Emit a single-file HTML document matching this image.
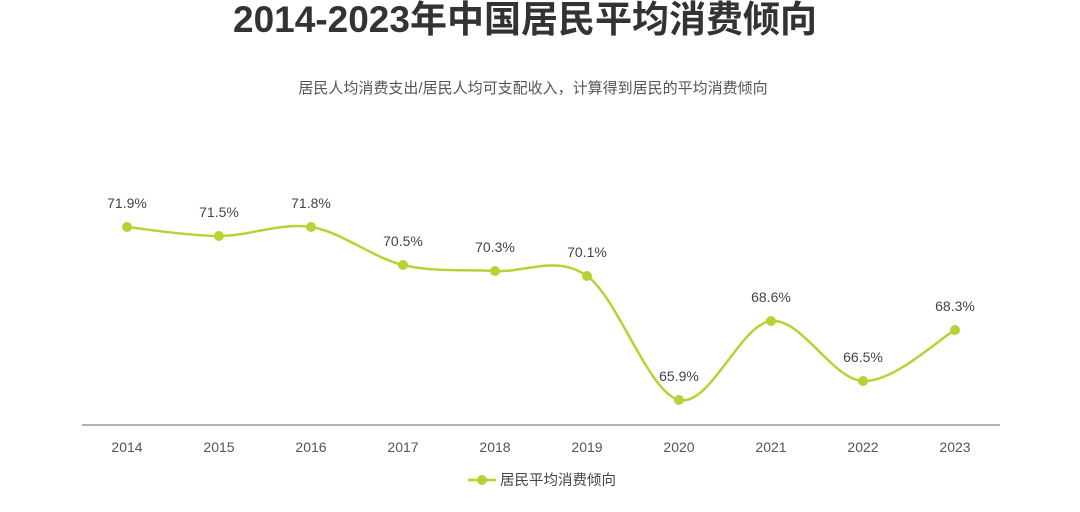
<!DOCTYPE html>
<html><head><meta charset="utf-8"><style>
html,body{margin:0;padding:0;background:#fff;}
svg{display:block;}
text{font-family:"Liberation Sans","Noto Sans CJK SC",sans-serif;}
</style></head><body>
<svg width="1080" height="512" viewBox="0 0 1080 512">
<text x="525" y="32" text-anchor="middle" font-size="37" font-weight="bold" fill="#333">2014-2023年中国居民平均消费倾向</text>
<text x="533" y="93" text-anchor="middle" font-size="15" fill="#555">居民人均消费支出/居民人均可支配收入，计算得到居民的平均消费倾向</text>
<line x1="82" y1="425" x2="1000" y2="425" stroke="#666" stroke-width="1"/>
<g font-size="14" fill="#555" text-anchor="middle">
<text x="127" y="452">2014</text><text x="219" y="452">2015</text><text x="311" y="452">2016</text><text x="403" y="452">2017</text><text x="495" y="452">2018</text><text x="587" y="452">2019</text><text x="679" y="452">2020</text><text x="771" y="452">2021</text><text x="863" y="452">2022</text><text x="955" y="452">2023</text>
</g>
<path d="M127,227 C142.3,228.5 188.3,236 219,236 C249.7,236 280.3,222.2 311,227 C341.7,231.8 372.3,257.7 403,265 C433.7,272.3 464.3,269.2 495,271 C525.7,272.8 556.3,254.5 587,276 C617.7,297.5 648.3,392.5 679,400 C709.7,407.5 740.3,324.2 771,321 C801.7,317.8 832.3,379.5 863,381 C893.7,382.5 939.7,338.5 955,330" fill="none" stroke="#b5d334" stroke-width="2.5"/>
<g fill="#b5d334">
<circle cx="127" cy="227" r="5"/><circle cx="219" cy="236" r="5"/><circle cx="311" cy="227" r="5"/><circle cx="403" cy="265" r="5"/><circle cx="495" cy="271" r="5"/><circle cx="587" cy="276" r="5"/><circle cx="679" cy="400" r="5"/><circle cx="771" cy="321" r="5"/><circle cx="863" cy="381" r="5"/><circle cx="955" cy="330" r="5"/>
</g>
<g font-size="14" fill="#444" text-anchor="middle">
<text x="127" y="208">71.9%</text><text x="219" y="217">71.5%</text><text x="311" y="208">71.8%</text><text x="403" y="246">70.5%</text><text x="495" y="252">70.3%</text><text x="587" y="257">70.1%</text><text x="679" y="381">65.9%</text><text x="771" y="302">68.6%</text><text x="863" y="362">66.5%</text><text x="955" y="311">68.3%</text>
</g>
<line x1="468" y1="480" x2="496" y2="480" stroke="#b5d334" stroke-width="2.5"/>
<circle cx="482" cy="480" r="5" fill="#b5d334"/>
<text x="500" y="485" font-size="14.5" fill="#444">居民平均消费倾向</text>
</svg>
</body></html>
